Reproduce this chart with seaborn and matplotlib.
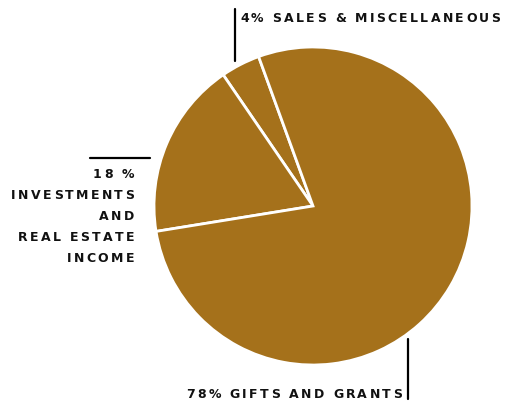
import matplotlib
matplotlib.use("Agg")
import matplotlib.pyplot as plt
import seaborn as sns
from matplotlib.font_manager import FontProperties
from matplotlib.textpath import TextToPath

# slice data (counter-clockwise from the 4% wedge)
categories = ["Sales & Miscellaneous", "Investments and Real Estate Income", "Gifts and Grants"]
shares = [4, 18, 78]
label_sales = ["4% SALES & MISCELLANEOUS"]
label_invest = ["18 %", "INVESTMENTS", "AND", "REAL ESTATE", "INCOME"]
label_gifts = ["78% GIFTS AND GRANTS"]

sns.set_theme(style="white")
plt.rcParams['font.family'] = ['DejaVu Sans']

W, H = 510, 402
fig = plt.figure(figsize=(W / 100, H / 100), dpi=100)
ax = fig.add_axes([0, 0, 1, 1])

gold = "#A5711B"
ax.pie(shares, colors=[gold] * len(shares), startangle=110, counterclock=True,
       center=(313, H - 207), radius=159, frame=True,
       wedgeprops=dict(edgecolor="white", linewidth=2))
ax.set_xlim(0, W)
ax.set_ylim(0, H)
ax.set_aspect("equal")
ax.axis("off")

fp = FontProperties(family="DejaVu Sans", weight="bold", size=9.0)
t2p = TextToPath()
TRACK = 2.3  # letter spacing in px


def char_px(ch):
    w, _, _ = t2p.get_text_width_height_descent(ch, fp, ismath=False)
    return w * 100 / 72


def spaced_text(x, y, s, ha="left"):
    widths = [char_px(c) for c in s]
    total = sum(widths) + TRACK * (len(s) - 1)
    x0 = x - total if ha == "right" else x
    for c, w in zip(s, widths):
        ax.text(x0, y, c, ha="left", va="center", fontproperties=fp, color="#111111")
        x0 += w + TRACK


lw = 1.6

# sales label
ax.plot([235, 235], [H - 10, H - 62], color="black", lw=lw)
spaced_text(240, H - 18, label_sales[0])

# investments label
ax.plot([90, 150], [H - 159, H - 159], color="black", lw=lw)
for i, line in enumerate(label_invest):
    spaced_text(134, H - 175 - i * 21, line, ha="right")

# gifts label
ax.plot([408, 408], [H - 340, H - 400], color="black", lw=lw)
spaced_text(402, H - 395, label_gifts[0], ha="right")

fig.savefig("out.png", dpi=100)
